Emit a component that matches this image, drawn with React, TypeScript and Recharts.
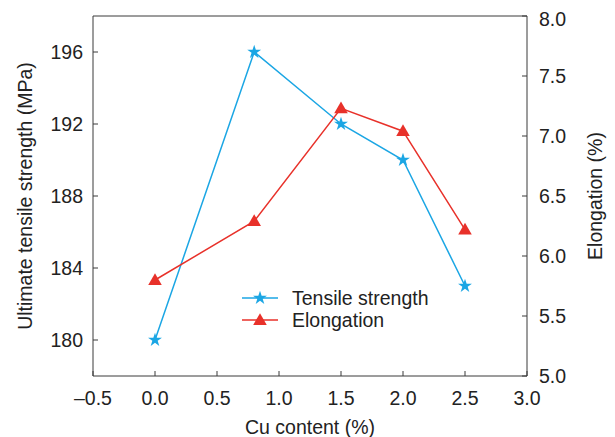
import React from 'react';
import { ComposedChart, Line, XAxis, YAxis, Legend, Label, Symbols, ReferenceLine } from 'recharts';

const cuContent = [0, 0.8, 1.5, 2.0, 2.5];
const tensileStrength = [180, 196, 192, 190, 183];
const elongation = [5.8, 6.29, 7.23, 7.04, 6.22];

const xTicks = [-0.5, 0, 0.5, 1.0, 1.5, 2.0, 2.5, 3.0];
const leftTicks = [180, 184, 188, 192, 196];
const rightTicks = [5.0, 5.5, 6.0, 6.5, 7.0, 7.5, 8.0];

const BLUE = '#1ba6e4';
const RED = '#e8312a';
const AXIS = '#3a3a3a';
const TEXT = '#222222';
const FONT = '"Liberation Sans", Arial, sans-serif';
const FS = 19.5;

const data = cuContent.map((x, i) => ({ x, tensile: tensileStrength[i], elong: elongation[i] }));

const fmt = (v: number) => (v < 0 ? '\u2013' + Math.abs(v).toFixed(1) : v.toFixed(1));

const StarDot = (props: any) => {
  const { cx, cy, index } = props;
  if (cx == null || cy == null) return null;
  return <Symbols key={'s' + index} cx={cx} cy={cy} type="star" size={60} fill={BLUE} stroke="none" />;
};
const TriDot = (props: any) => {
  const { cx, cy, index } = props;
  if (cx == null || cy == null) return null;
  return <Symbols key={'t' + index} cx={cx} cy={cy + 1} type="triangle" size={80} fill={RED} stroke="none" />;
};

const legendItems = [
  { name: 'Tensile strength', color: BLUE, type: 'star', size: 60 },
  { name: 'Elongation', color: RED, type: 'triangle', size: 80 },
];

const renderLegend = () => (
  <div style={{ fontFamily: FONT, fontSize: FS, color: TEXT, lineHeight: '22px' }}>
    {legendItems.map((it) => (
      <div key={it.name} style={{ display: 'flex', alignItems: 'center', height: 22 }}>
        <svg width={52} height={22} style={{ display: 'block' }}>
          <line x1={2} y1={11} x2={38} y2={11} stroke={it.color} strokeWidth={1.5} />
          <Symbols cx={20} cy={it.type === 'triangle' ? 12 : 11} type={it.type as any} size={it.size} fill={it.color} stroke="none" />
        </svg>
        <span>{it.name}</span>
      </div>
    ))}
  </div>
);

const leftLabel = (props: any) => {
  const { viewBox } = props;
  const x = viewBox.x + 17;
  const y = viewBox.y + viewBox.height / 2;
  return (
    <text x={x} y={y} transform={`rotate(-90, ${x}, ${y})`} textAnchor="middle" dominantBaseline="central" fill={TEXT} fontSize={FS} fontFamily={FONT}>
      Ultimate tensile strength (MPa)
    </text>
  );
};
const rightLabel = (props: any) => {
  const { viewBox } = props;
  const x = viewBox.x + 68;
  const y = viewBox.y + viewBox.height / 2;
  return (
    <text x={x} y={y} transform={`rotate(-90, ${x}, ${y})`} textAnchor="middle" dominantBaseline="central" fill={TEXT} fontSize={FS} fontFamily={FONT}>
      Elongation (%)
    </text>
  );
};
const bottomLabel = (props: any) => {
  const { viewBox } = props;
  const x = viewBox.x + viewBox.width / 2;
  const y = viewBox.y + 51;
  return (
    <text x={x} y={y} textAnchor="middle" dominantBaseline="central" fill={TEXT} fontSize={FS} fontFamily={FONT}>
      Cu content (%)
    </text>
  );
};

export default function App() {
  const tickStyle = { fill: TEXT, fontSize: FS, fontFamily: FONT };
  return (
    <div style={{ width: 607, height: 429 }}>
      <ComposedChart width={607} height={429} data={data} margin={{ top: 8, right: 0, bottom: 0, left: 0 }}>
        <XAxis
          dataKey="x"
          type="number"
          domain={[-0.5, 3]}
          ticks={xTicks}
          tickFormatter={fmt}
          height={61}
          stroke={AXIS}
          tick={tickStyle}
          tickSize={-5}
          tickMargin={20}
          allowDataOverflow
        >
          <Label content={bottomLabel} />
        </XAxis>
        <YAxis
          yAxisId="left"
          domain={[178, 198]}
          ticks={leftTicks}
          width={85}
          stroke={AXIS}
          tick={tickStyle}
          tickSize={-5}
          tickMargin={15}
          allowDataOverflow
        >
          <Label content={leftLabel} />
        </YAxis>
        <YAxis
          yAxisId="right"
          orientation="right"
          domain={[5, 8]}
          ticks={rightTicks}
          tickFormatter={(v: number) => v.toFixed(1)}
          width={88}
          stroke={AXIS}
          tick={tickStyle}
          tickSize={-5}
          tickMargin={17}
          allowDataOverflow
        >
          <Label content={rightLabel} />
        </YAxis>
        <ReferenceLine yAxisId="left" y={198} stroke={AXIS} />
        <Line
          yAxisId="left"
          dataKey="tensile"
          stroke={BLUE}
          strokeWidth={1.5}
          dot={StarDot}
          activeDot={false}
          isAnimationActive={false}
          name="Tensile strength"
        />
        <Line
          yAxisId="right"
          dataKey="elong"
          stroke={RED}
          strokeWidth={1.5}
          dot={TriDot}
          activeDot={false}
          isAnimationActive={false}
          name="Elongation"
        />
        <Legend
          content={renderLegend}
          layout="vertical"
          align="center"
          verticalAlign="middle"
          wrapperStyle={{ left: 232, top: 279, width: 'auto' }}
        />
      </ComposedChart>
    </div>
  );
}
